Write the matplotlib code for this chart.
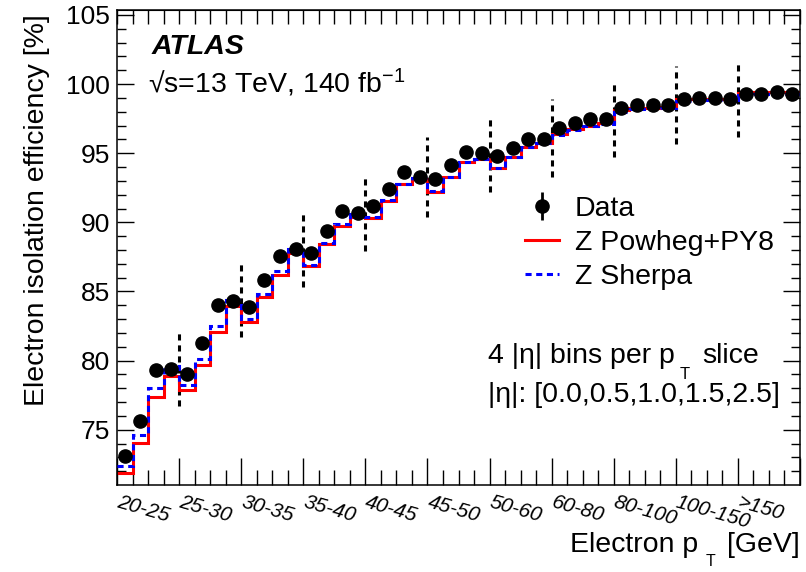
import numpy as np
import matplotlib
matplotlib.use("Agg")
import matplotlib.pyplot as plt
from matplotlib.transforms import blended_transform_factory

plt.rcParams['font.family'] = ['Liberation Sans', 'DejaVu Sans']
plt.rcParams['mathtext.fontset'] = 'custom'
plt.rcParams['mathtext.rm'] = 'Liberation Sans'
plt.rcParams['mathtext.it'] = 'Liberation Sans:italic'
plt.rcParams['mathtext.bf'] = 'Liberation Sans:bold'

# pT slices, 4 |eta| bins each
pt_slices = ["20-25", "25-30", "30-35", "35-40", "40-45", "45-50",
             "50-60", "60-80", "80-100", "100-150", ">150"]
n_eta = 4

data_eff = [73.07, 75.6, 79.35, 79.4, 79.06, 81.28, 83.99, 84.3,
            83.86, 85.82, 87.6, 88.1, 87.8, 89.4, 90.82, 90.7,
            91.18, 92.44, 93.65, 93.3, 93.16, 94.13, 95.1, 94.98,
            94.8, 95.41, 96.06, 96.0, 96.8, 97.15, 97.46, 97.46,
            98.26, 98.48, 98.48, 98.5, 98.91, 98.99, 99.03, 98.91,
            99.28, 99.3, 99.45, 99.3]

powheg_eff = [71.9, 74.04, 77.37, 78.9, 77.9, 79.7, 82.1, 83.93,
              82.8, 84.6, 86.2, 87.75, 86.83, 88.4, 89.73, 90.4,
              90.3, 91.55, 92.8, 93.16, 92.2, 93.3, 94.37, 94.6,
              93.95, 94.76, 95.46, 95.77, 96.37, 96.74, 97.0, 97.2,
              98.1, 98.3, 98.3, 98.35, 98.9, 98.95, 98.95, 98.95,
              99.35, 99.4, 99.45, 99.4]

sherpa_eff = [72.4, 74.6, 78.0, 79.6, 78.2, 80.1, 82.5, 84.35,
              83.0, 84.8, 86.5, 88.1, 86.9, 88.5, 89.9, 90.58,
              90.4, 91.6, 92.8, 93.2, 92.3, 93.3, 94.4, 94.6,
              93.95, 94.75, 95.45, 95.75, 96.3, 96.7, 96.95, 97.1,
              98.0, 98.2, 98.2, 98.25, 98.75, 98.85, 98.85, 98.85,
              99.2, 99.25, 99.3, 99.3]

# extent of the dashed separators between slices
sep_low = [76.7, 81.7, 85.3, 87.9, 90.4, 92.2, 93.3, 94.7, 95.7, 96.2]
sep_high = [82.2, 87.2, 90.9, 93.5, 96.2, 97.7, 98.9, 100.2, 101.3, 101.7]

nbins = len(data_eff)
edges = np.arange(nbins + 1)
centers = edges[:-1] + 0.5

W, H = 806, 572
FS = 20.5
fig = plt.figure(figsize=(W / 100, H / 100), dpi=100)
ax = fig.add_axes([117 / W, 1 - 485 / H, 683 / W, 475 / H])

ax.stairs(powheg_eff, edges, color='#ff0000', lw=2.2, baseline=None,
          label='Z Powheg+PY8', zorder=2)
ax.stairs(sherpa_eff, edges, color='#0000ff', lw=2.2, ls=(0, (2, 1.5)),
          baseline=None, label='Z Sherpa', zorder=3)
ax.errorbar(centers, data_eff, yerr=None, fmt='o', color='black', ms=9.5,
            zorder=4, label='_nolegend_')

# slice separators
for k in range(len(sep_low)):
    xb = (k + 1) * n_eta
    ax.plot([xb, xb], [sep_low[k], sep_high[k]], color='black', lw=2.2,
            ls=(0, (2, 1.6)), zorder=1)

ax.set_xlim(0, nbins)
ax.set_ylim(71, 105.36)

ax.set_xticks(np.arange(0, nbins + 1, n_eta))
ax.set_xticks(edges, minor=True)
ax.set_xticklabels([])
ax.set_yticks(np.arange(75, 106, 5))
ax.set_yticks(np.arange(72, 106, 1), minor=True)
ax.tick_params(axis='y', which='both', direction='in', left=True, right=True,
               labelsize=19, width=1.0, pad=5)
ax.tick_params(axis='y', which='major', length=12)
ax.tick_params(axis='y', which='minor', length=6.5)
ax.tick_params(axis='x', which='both', direction='in', bottom=True, top=False,
               width=1.0)
ax.tick_params(axis='x', which='major', length=19.5)
ax.tick_params(axis='x', which='minor', length=10.8)
for s in ax.spines.values():
    s.set_linewidth(1.1)

top = ax.secondary_xaxis('top')
top.set_xticks(edges)
top.set_xticklabels([])
top.tick_params(direction='in', length=10, width=1.0)

# slice labels under the axis
trans = blended_transform_factory(ax.transData, ax.transAxes)
for k, lab in enumerate(pt_slices):
    ax.text(k * n_eta + 0.2, -0.017, lab, transform=trans, rotation=-16,
            ha='left', va='top', fontsize=15, style='italic',
            rotation_mode='anchor')

ax.set_ylabel('Electron isolation efficiency [%]', fontsize=FS, ha='right',
              y=0.99)
ax.yaxis.set_label_coords(-0.098, 0.99)

# x title with the low-set subscript
fig.text(800 / W, 1 - 552 / H, '[GeV]', fontsize=FS, ha='right',
         va='baseline')
fig.text(711 / W, 1 - 566 / H, 'T', fontsize=11.5, ha='center',
         va='baseline')
fig.text(698 / W, 1 - 552 / H, 'Electron p', fontsize=FS, ha='right',
         va='baseline')

fig.text(152 / W, 1 - 54 / H, 'ATLAS', fontsize=FS, fontweight='bold',
         style='italic', va='baseline')
fig.text(148 / W, 1 - 93 / H, '\u221as=13 TeV, 140 fb$^{-1}$', fontsize=FS,
         va='baseline')
fig.text(488 / W, 1 - 363 / H, '4 |η| bins per p', fontsize=FS,
         va='baseline')
fig.text(685 / W, 1 - 379 / H, 'T', fontsize=12, ha='center', va='baseline')
fig.text(702 / W, 1 - 363 / H, 'slice', fontsize=FS, va='baseline')
fig.text(488 / W, 1 - 402 / H, '|η|: [0.0,0.5,1.0,1.5,2.5]', fontsize=FS,
         va='baseline')

# legend
data_h = ax.errorbar([np.nan], [np.nan], yerr=[np.nan], fmt='o',
                     color='black', ms=9.5, elinewidth=2)
handles, labels = ax.get_legend_handles_labels()
leg = ax.legend([data_h] + handles[:2], ['Data'] + labels[:2],
                loc='upper left', bbox_to_anchor=(525 / W, 1 - 196 / H),
                bbox_transform=fig.transFigure, frameon=False, fontsize=FS,
                handlelength=1.2, handletextpad=0.55, labelspacing=0.28,
                borderpad=0, borderaxespad=0)

fig.savefig('out.png', dpi=100)
